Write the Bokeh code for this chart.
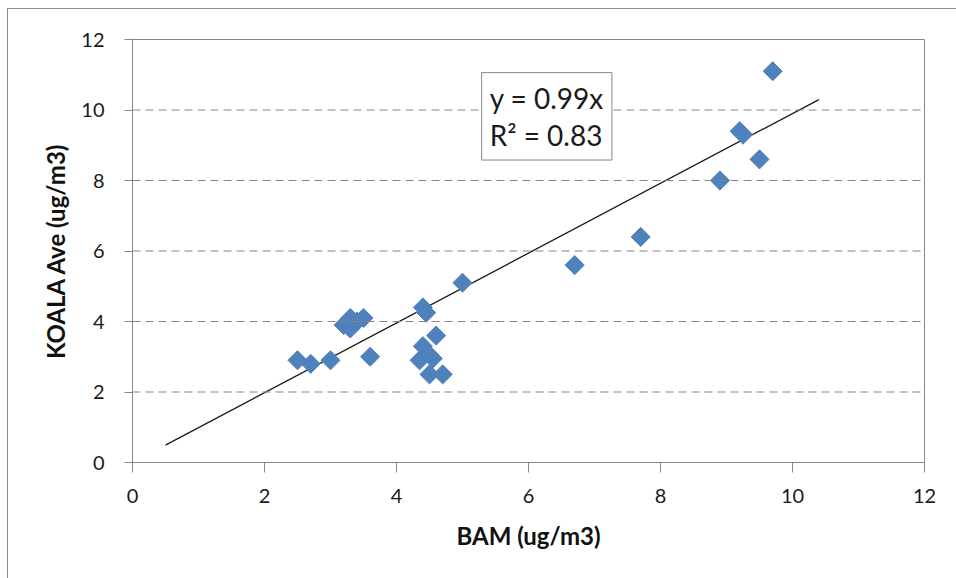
import numpy as np
from bokeh.plotting import figure
from bokeh.models import FixedTicker, Label, Span
from bokeh.embed import file_html
from bokeh.resources import INLINE

# ---- data ----
bam = [9.7, 9.2, 9.25, 9.5, 8.9, 7.7, 6.7, 5.0, 4.4, 4.45, 4.6, 4.4, 4.5,
       4.35, 4.55, 4.5, 4.7, 2.5, 2.7, 3.0, 3.6, 3.2, 3.3, 3.3, 3.5, 3.4]
koala = [11.1, 9.4, 9.3, 8.6, 8.0, 6.4, 5.6, 5.1, 4.4, 4.25, 3.6, 3.3, 3.05,
         2.9, 2.95, 2.5, 2.5, 2.9, 2.8, 2.9, 3.0, 3.9, 4.1, 3.8, 4.1, 4.0]
trend_x = [0.5, 10.4]
slope = 0.99
r2 = 0.83
tick_values = [0, 2, 4, 6, 8, 10, 12]
grid_values = [2, 4, 6, 8, 10]

FONT = "Lato"
AXIS_GREY = "#868686"
BLUE = "#4F81BD"

p = figure(width=956, height=578, x_range=(0, 12), y_range=(0, 12),
           output_backend="svg", toolbar_location=None,
           min_border_left=132, min_border_right=32,
           min_border_top=39, min_border_bottom=116)
p.styles = {
    "background": "linear-gradient(#8c8c8c, #8c8c8c) 7px 8px / 1px 100% no-repeat, "
                  "linear-gradient(#8c8c8c, #8c8c8c) 7px 8px / 100% 1px no-repeat, white",
}

p.background_fill_color = "white"
p.border_fill_color = None
p.outline_line_color = AXIS_GREY
p.outline_line_width = 1

p.xgrid.visible = False
p.ygrid.visible = False
for v in grid_values:
    p.add_layout(Span(location=v, dimension="width", line_color=AXIS_GREY,
                      line_width=1, line_dash="8 5"))

for ax in (p.xaxis[0], p.yaxis[0]):
    ax.ticker = FixedTicker(ticks=tick_values)
    ax.axis_line_color = AXIS_GREY
    ax.major_tick_line_color = AXIS_GREY
    ax.major_tick_in = 0
    ax.minor_tick_line_color = None
    ax.major_label_text_font = FONT
    ax.major_label_text_font_size = "20px"
    ax.major_label_text_color = "#1a1a1a"
    ax.axis_label_text_font = FONT
    ax.axis_label_text_font_size = "24px"
    ax.axis_label_text_font_style = "bold"
    ax.axis_label_text_color = "#111111"

p.xaxis.major_tick_out = 10
p.xaxis.major_label_standoff = 16
p.xaxis.axis_label = "BAM (ug/m3)"
p.xaxis.axis_label_standoff = 15

p.yaxis.major_tick_out = 8
p.yaxis.major_label_standoff = 20
p.yaxis.axis_label = "KOALA Ave (ug/m3)"
p.yaxis.axis_label_standoff = 8

# trend line y = 0.99x
trend_y = [slope * x for x in trend_x]
p.line(trend_x, trend_y, line_color="#1a1a1a", line_width=1.3)

# data points as diamonds
p.scatter(bam, koala, marker="square", angle=np.pi / 4, size=13.5,
          fill_color=BLUE, line_color=BLUE)

eq = Label(x=5.29, y=11.06, anchor="top_left",
           text=f"y = {slope}x\nR\u00b2 = {r2}",
           text_font=FONT, text_font_size="28px", text_color="#1a1a1a",
           text_line_height=1.1, padding=8,
           border_line_color=AXIS_GREY, border_line_width=1,
           background_fill_color="white")
p.add_layout(eq)

open("out.html", "w").write(file_html(p, INLINE))
